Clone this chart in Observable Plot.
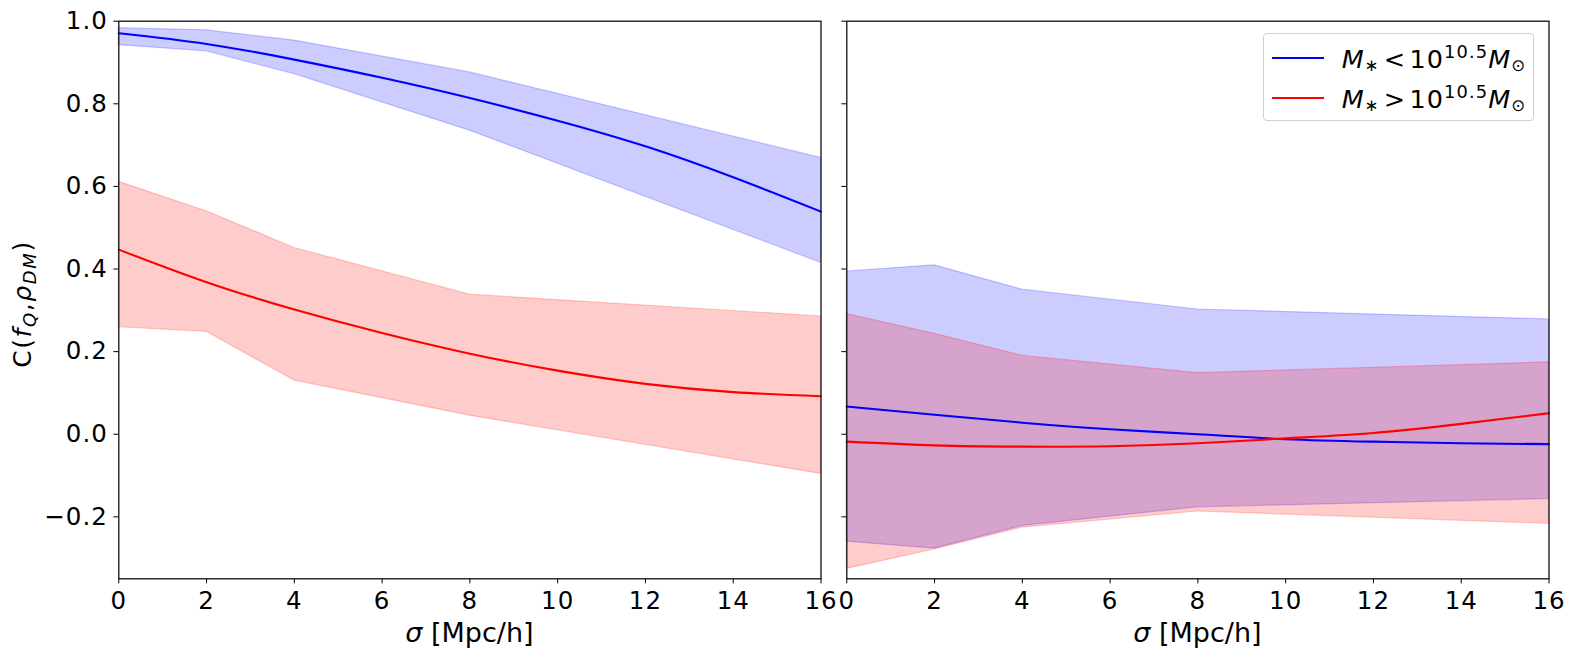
<!DOCTYPE html>
<html>
<head>
<meta charset="utf-8">
<script src="https://cdn.jsdelivr.net/npm/d3@7"></script>
<script src="https://cdn.jsdelivr.net/npm/@observablehq/plot@0.6"></script>
<style>
  html, body { margin: 0; padding: 0; background: white; }
  #wrap { position: relative; width: 1578px; height: 662px; overflow: hidden; font-family: "DejaVu Sans", sans-serif; }
  #wrap svg { position: absolute; top: 0; overflow: visible; }
  #wrap svg text.tk { font-size: 24.5px !important; letter-spacing: 1px; font-family: "DejaVu Sans" !important; }
  #legend {
    position: absolute; left: 1262.7px; top: 33px; width: 271px; height: 88px;
    border: 1.2px solid #d0d0d0; border-radius: 4px; background: rgba(255,255,255,0.8);
    box-sizing: border-box;
  }
  .lg-line { position: absolute; left: 8px; width: 52.6px; height: 2px; }
  .lg-text { position: absolute; left: 78px; white-space: nowrap; font-size: 25.5px; letter-spacing: 1.1px; font-family: "DejaVu Sans", sans-serif; line-height: 1; }
  .lg-text i { font-style: oblique; }
  .lg-text .rel { margin: 0 0.12em 0 0.16em; }
  .lg-text sub { font-size: 65%; vertical-align: -0.2em; }
  .lg-text sup { font-size: 70%; vertical-align: 0.55em; }
</style>
</head>
<body>
<div id="wrap">
  <div id="legend">
    <div class="lg-line" style="top:23px; background:#0000ff;"></div>
    <div class="lg-text" style="top:9px;"><i>M</i><sub>∗</sub><span class="rel">&lt;</span>10<sup>10.5</sup><i>M</i><sub>⊙</sub></div>
    <div class="lg-line" style="top:63px; background:#ff0000;"></div>
    <div class="lg-text" style="top:49px;"><i>M</i><sub>∗</sub><span class="rel">&gt;</span>10<sup>10.5</sup><i>M</i><sub>⊙</sub></div>
  </div>
</div>
<script>
// ---------------- data ----------------
const sigmaBand = [0, 2, 4, 8, 16];
const sigmaLine = [0, 2, 4, 6, 8, 10, 12, 14, 16];
const xTicks = [0, 2, 4, 6, 8, 10, 12, 14, 16];
const yTicks = [-0.2, 0.0, 0.2, 0.4, 0.6, 0.8, 1.0];
const seriesNames = ["M* < 10^10.5 Msun", "M* > 10^10.5 Msun"];

// left panel
const leftLowBandLo  = [0.942, 0.927, 0.872, 0.735, 0.415];
const leftLowBandHi  = [0.983, 0.978, 0.953, 0.876, 0.669];
const leftLowLine    = [0.971, 0.945, 0.907, 0.863, 0.814, 0.759, 0.697, 0.622, 0.539];
const leftHighBandLo = [0.259, 0.248, 0.130, 0.045, -0.096];
const leftHighBandHi = [0.611, 0.540, 0.451, 0.338, 0.285];
const leftHighLine   = [0.447, 0.368, 0.302, 0.245, 0.195, 0.154, 0.122, 0.102, 0.092];

// right panel
const rightLowBandLo  = [-0.260, -0.277, -0.222, -0.177, -0.157];
const rightLowBandHi  = [0.394, 0.409, 0.350, 0.302, 0.278];
const rightLowLine    = [0.067, 0.047, 0.028, 0.012, 0.000, -0.012, -0.018, -0.022, -0.024];
const rightHighBandLo = [-0.326, -0.279, -0.226, -0.187, -0.217];
const rightHighBandHi = [0.291, 0.243, 0.190, 0.148, 0.174];
const rightHighLine   = [-0.018, -0.027, -0.030, -0.029, -0.022, -0.010, 0.003, 0.025, 0.051];

// ---------------- helpers ----------------
const band = (lo, hi) => sigmaBand.map((s, i) => ({s, lo: lo[i], hi: hi[i]}));
const line = (v) => sigmaLine.map((s, i) => ({s, v: v[i]}));
const fmtY = d => (d < 0 ? "\u2212" : "") + Math.abs(d).toFixed(1);

const ML = 118.3, MR = 30, MT = 20.7, MB = 83.7, PW = 702.2, H = 662;

function panel(cfg) {
  const svg = Plot.plot({
    width: ML + PW + MR,
    height: H,
    marginLeft: ML, marginRight: MR, marginTop: MT, marginBottom: MB,
    style: {fontFamily: "DejaVu Sans", fontSize: "24.5px", color: "black", background: "none", overflow: "visible"},
    x: {domain: [0, 16], ticks: xTicks, tickFormat: d => String(d), tickSize: 5, tickPadding: 8, label: null},
    y: {domain: [-0.35, 1.0], ticks: yTicks, tickFormat: cfg.yLabels ? fmtY : () => "", tickSize: 5, tickPadding: 6, label: null},
    marks: [
      Plot.areaY(band(cfg.lowLo, cfg.lowHi), {x: "s", y1: "lo", y2: "hi", fill: "#0000ff", fillOpacity: 0.2, stroke: "#0000ff", strokeOpacity: 0.2, strokeWidth: 1.2}),
      Plot.areaY(band(cfg.highLo, cfg.highHi), {x: "s", y1: "lo", y2: "hi", fill: "#ff0000", fillOpacity: 0.2, stroke: "#ff0000", strokeOpacity: 0.2, strokeWidth: 1.2}),
      Plot.line(line(cfg.lowLine), {x: "s", y: "v", stroke: "#0000ff", strokeWidth: 2.1, curve: "natural"}),
      Plot.line(line(cfg.highLine), {x: "s", y: "v", stroke: "#ff0000", strokeWidth: 2.1, curve: "natural"}),
      Plot.frame({stroke: "#111", strokeWidth: 1.3})
    ]
  });
  svg.style.left = cfg.left + "px";
  // force the tick-label font on every axis text
  svg.querySelectorAll("g").forEach(g => g.removeAttribute("font-size"));
  svg.querySelectorAll("text").forEach(t => {
    t.classList.add("tk");
    t.setAttribute("font-size", "24.5");
  });
  const s = d3.select(svg);
  const xl = s.append("text")
    .attr("x", ML + PW / 2).attr("y", 641.7)
    .attr("text-anchor", "middle")
    .style("font-size", "27px")
    .style("font-family", "DejaVu Sans")
    .attr("fill", "black");
  xl.append("tspan").style("font-style", "oblique").text("σ");
  xl.append("tspan").text(" [Mpc/h]");
  return svg;
}

const wrap = document.getElementById("wrap");
const left = panel({left: 0, yLabels: true,
  lowLo: leftLowBandLo, lowHi: leftLowBandHi, lowLine: leftLowLine,
  highLo: leftHighBandLo, highHi: leftHighBandHi, highLine: leftHighLine});
const right = panel({left: 728.4, yLabels: false,
  lowLo: rightLowBandLo, lowHi: rightLowBandHi, lowLine: rightLowLine,
  highLo: rightHighBandLo, highHi: rightHighBandHi, highLine: rightHighLine});
wrap.insertBefore(left, wrap.firstChild);
wrap.insertBefore(right, document.getElementById("legend"));

// y-axis label with math sub-scripts
const yl = d3.select(left).append("text")
  .attr("transform", `translate(31, 304) rotate(-90)`)
  .attr("text-anchor", "middle")
  .style("font-size", "25px")
  .style("font-family", "DejaVu Sans")
  .style("letter-spacing", "1.6px")
  .attr("fill", "black");
yl.append("tspan").text("C(");
yl.append("tspan").style("font-style", "oblique").text("f");
yl.append("tspan").style("font-style", "oblique").style("font-size", "18px").attr("dy", 5).text("Q");
yl.append("tspan").attr("dy", -5).text(",");
yl.append("tspan").style("font-style", "oblique").text("ρ");
yl.append("tspan").style("font-style", "oblique").style("font-size", "18px").attr("dy", 5).text("DM");
yl.append("tspan").attr("dy", -5).text(")");
</script>
</body>
</html>
